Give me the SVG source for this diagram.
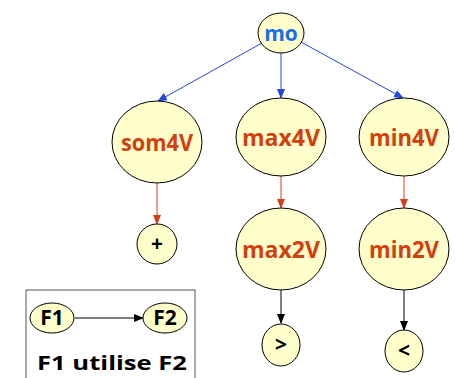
<svg xmlns="http://www.w3.org/2000/svg" width="455" height="378" viewBox="0 0 455 378">
  <style>
    .node { fill: #ffffcc; stroke: #000; stroke-width: 1; }
    .lbl { font-family: "Open Sans", "Liberation Sans", sans-serif; font-weight: bold; text-anchor: middle; }
    .red { fill: #d2400f; font-size: 23px; }
    .blk { fill: #000; font-size: 21px; }
    .blue { fill: #1a6ee8; font-size: 21px; }
    .eb { stroke: #2346e0; stroke-width: 1; fill: none; }
    .er { stroke: #d2401a; stroke-width: 1; fill: none; }
    .ek { stroke: #000; stroke-width: 1; fill: none; }
  </style>
  <defs>
    <marker id="ab" markerWidth="10" markerHeight="8" refX="9" refY="4" orient="auto" markerUnits="userSpaceOnUse">
      <path d="M0,0 L10,4 L0,8 z" fill="#2346e0"/>
    </marker>
    <marker id="ar" markerWidth="10" markerHeight="8" refX="9" refY="4" orient="auto" markerUnits="userSpaceOnUse">
      <path d="M0,0 L10,4 L0,8 z" fill="#d2401a"/>
    </marker>
    <marker id="ak" markerWidth="10" markerHeight="8" refX="9" refY="4" orient="auto" markerUnits="userSpaceOnUse">
      <path d="M0,0 L10,4 L0,8 z" fill="#000"/>
    </marker>
  </defs>

  <g id="connectors">
    <line class="eb" x1="262" y1="43" x2="158" y2="101" marker-end="url(#ab)"/>
    <line class="eb" x1="281" y1="53" x2="281" y2="98" marker-end="url(#ab)"/>
    <line class="eb" x1="301" y1="42" x2="403" y2="98" marker-end="url(#ab)"/>
    <line class="er" x1="157" y1="183" x2="157" y2="224" marker-end="url(#ar)"/>
    <line class="er" x1="281" y1="176" x2="281" y2="208" marker-end="url(#ar)"/>
    <line class="er" x1="404" y1="176" x2="404" y2="208" marker-end="url(#ar)"/>
    <line class="ek" x1="281" y1="290" x2="281" y2="323" marker-end="url(#ak)"/>
    <line class="ek" x1="404" y1="290" x2="404" y2="330" marker-end="url(#ak)"/>
  </g>

  <g id="mo">
    <ellipse class="node" cx="281" cy="33" rx="23" ry="20"/>
    <text class="lbl blue" x="281" y="41">mo</text>
  </g>
  <g id="som4V">
    <ellipse class="node" cx="157" cy="142" rx="45" ry="41"/>
    <text class="lbl red" x="157" y="151" textLength="72" lengthAdjust="spacingAndGlyphs">som4V</text>
  </g>
  <g id="max4V">
    <ellipse class="node" cx="281" cy="137" rx="45" ry="39"/>
    <text class="lbl red" x="281" y="146" textLength="78" lengthAdjust="spacingAndGlyphs">max4V</text>
  </g>
  <g id="min4V">
    <ellipse class="node" cx="404" cy="137" rx="45" ry="39"/>
    <text class="lbl red" x="404" y="146" textLength="70" lengthAdjust="spacingAndGlyphs">min4V</text>
  </g>
  <g id="plus">
    <ellipse class="node" cx="157" cy="244" rx="20" ry="20"/>
    <text class="lbl blk" x="157" y="251">+</text>
  </g>
  <g id="max2V">
    <ellipse class="node" cx="281" cy="249" rx="45" ry="41"/>
    <text class="lbl red" x="281" y="258" textLength="78" lengthAdjust="spacingAndGlyphs">max2V</text>
  </g>
  <g id="min2V">
    <ellipse class="node" cx="404" cy="249" rx="45" ry="41"/>
    <text class="lbl red" x="404" y="258" textLength="70" lengthAdjust="spacingAndGlyphs">min2V</text>
  </g>
  <g id="gt">
    <ellipse class="node" cx="281" cy="345" rx="19" ry="21"/>
    <text class="lbl blk" x="281" y="352">&gt;</text>
  </g>
  <g id="lt">
    <ellipse class="node" cx="404" cy="351" rx="19" ry="21"/>
    <text class="lbl blk" x="404" y="358">&lt;</text>
  </g>

  <g id="legend">
    <rect x="26" y="290" width="169" height="100" fill="#fff" stroke="#555" stroke-width="1"/>
    <line class="ek" x1="75" y1="318" x2="143" y2="318" marker-end="url(#ak)"/>
    <g id="F1">
      <ellipse class="node" cx="52" cy="318" rx="22" ry="15"/>
      <text class="lbl blk" x="52" y="325" font-size="20">F1</text>
    </g>
    <g id="F2">
      <ellipse class="node" cx="165" cy="318" rx="22" ry="15"/>
      <text class="lbl blk" x="165" y="325" font-size="20">F2</text>
    </g>
    <text class="lbl" x="112" y="370" font-size="20" textLength="150" lengthAdjust="spacingAndGlyphs" fill="#000">F1 utilise F2</text>
  </g>
</svg>
